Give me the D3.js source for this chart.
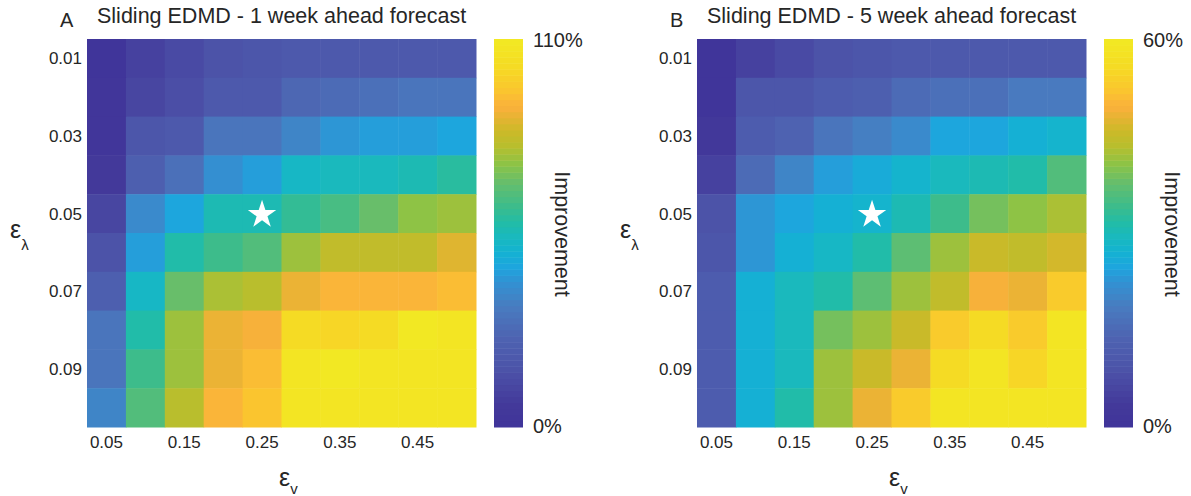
<!DOCTYPE html>
<html lang="en">

<head>
  <meta charset="UTF-8">
  <title>Sliding EDMD forecast improvement</title>
  <style>
    body { margin: 0; background: #fff; }
    text { font-family: "Liberation Sans", Arial, sans-serif; fill: #262626; }
  </style>
</head>

<body>
  <svg id="svg" width="1191" height="496"></svg>

  <script src="https://d3js.org/d3.v7.min.js"></script>
  <script>
    // epsilon_v (columns) and epsilon_lambda (rows)
    const epsV = [0.05, 0.10, 0.15, 0.20, 0.25, 0.30, 0.35, 0.40, 0.45, 0.50]
    const epsL = [0.01, 0.02, 0.03, 0.04, 0.05, 0.06, 0.07, 0.08, 0.09, 0.10]
    const xTickVals = [0.05, 0.15, 0.25, 0.35, 0.45]
    const yTickVals = [0.01, 0.03, 0.05, 0.07, 0.09]

    // improvement in %, one row per epsilon_lambda
    const oneWeek = [
      [1, 9, 13, 16, 18, 19, 20, 20, 20, 20],
      [2, 11, 14, 19, 20, 26, 28, 30, 31, 32],
      [3, 18, 20, 32, 32, 37, 42, 44, 44, 46],
      [6, 24, 30, 40, 44, 52, 54, 54, 56, 59],
      [12, 39, 46, 55, 55, 61, 64, 69, 74, 77],
      [17, 44, 57, 62, 67, 77, 81, 82, 82, 87],
      [24, 52, 69, 79, 80, 89, 92, 92, 92, 94],
      [31, 57, 76, 88, 91, 103, 100, 103, 109, 108],
      [32, 62, 77, 89, 94, 108, 109, 108, 107, 108],
      [37, 67, 80, 92, 95, 107, 107, 107, 107, 107]
    ]
    const fiveWeek = [
      [0.6, 5.4, 7.2, 9, 9.6, 10.8, 10.8, 10.8, 10.8, 10.8],
      [0.6, 9.6, 10.2, 12, 12.6, 15, 16.2, 16.8, 18.6, 18.6],
      [2.4, 11.4, 13.2, 17.4, 19.2, 21, 24.6, 24.6, 26.4, 27.3],
      [4.8, 15, 20.4, 24, 25.8, 27.6, 29.4, 30, 31.8, 36],
      [9, 22.8, 24.6, 27, 27.6, 30.6, 34.2, 39, 40.8, 42.6],
      [10.2, 22.8, 27, 28.8, 31.8, 37.2, 42, 45.6, 44.7, 46.8],
      [11.4, 26.4, 29.4, 31.8, 36.6, 42, 44.4, 49.2, 48, 52.5],
      [11.4, 26.4, 29.4, 39, 42, 45, 52.8, 55.8, 53.1, 59],
      [11.4, 26.4, 29.4, 41.4, 45.6, 48.6, 55.8, 59, 55.2, 58.8],
      [11.4, 26.4, 31.2, 41.4, 48.6, 52.8, 58.8, 59, 58.8, 59]
    ]
    const maxA = 110
    const maxB = 60
    const best = { v: 0.25, l: 0.05 }

    // parula-like colormap as it appears in the figure
    const cmapPos = [0, 0.05, 0.14, 0.23, 0.31, 0.37, 0.41, 0.45, 0.49, 0.53, 0.57, 0.63,
      0.68, 0.73, 0.77, 0.83, 0.88, 0.94, 1]
    const cmapCol = ["#40359a", "#43399a", "#4c52a8", "#4e64b2", "#487dc0", "#3291d2", "#1ea5de",
      "#14b2d2", "#19b9be", "#23bca5", "#3cbc8c", "#64be6e", "#8cc346", "#b9be2d", "#cdb928",
      "#fab03c", "#fac82d", "#f5dc23", "#f2e823"]
    const ramp = d3.scaleLinear().domain(cmapPos).range(cmapCol).interpolate(d3.interpolateRgb)
    const nColors = 64
    const cmap = d3.range(nColors).map(i => ramp(i / (nColors - 1)))

    const svg = d3.select("#svg")

    function drawPanel(x0, letter, title, values, vmax) {
      const g = svg.append("g")
      const x = d3.scaleBand().domain(epsV).range([x0, x0 + 389])
      const y = d3.scaleBand().domain(epsL).range([39, 427])
      const colorIdx = v => Math.max(0, Math.min(nColors - 1, Math.floor(v / vmax * nColors)))

      const cells = []
      epsL.forEach((l, i) => epsV.forEach((v, j) => cells.push({ l, v, val: values[i][j] })))

      g.selectAll("rect.cell")
        .data(cells)
        .enter()
        .append("rect")
        .attr("class", "cell")
        .attr("x", d => x(d.v))
        .attr("y", d => y(d.l))
        .attr("width", x.bandwidth() + 0.5)
        .attr("height", y.bandwidth() + 0.5)
        .attr("fill", d => cmap[colorIdx(d.val)])

      g.append("path")
        .attr("d", d3.symbol(d3.symbolStar, 250)())
        .attr("transform", `translate(${x(best.v) + x.bandwidth() / 2},${y(best.l) + y.bandwidth() / 2 + 1})`)
        .attr("fill", "#fff")

      // tick labels
      g.selectAll("text.xt")
        .data(xTickVals)
        .enter()
        .append("text")
        .attr("x", d => x(d) + x.bandwidth() / 2)
        .attr("y", 448)
        .attr("text-anchor", "middle")
        .attr("font-size", 17)
        .text(d => d3.format(".2f")(d))

      g.selectAll("text.yt")
        .data(yTickVals)
        .enter()
        .append("text")
        .attr("x", x0 - 5)
        .attr("y", d => y(d) + y.bandwidth() / 2 + 6)
        .attr("text-anchor", "end")
        .attr("font-size", 17)
        .text(d => d3.format(".2f")(d))

      // axis labels
      const xl = g.append("text").attr("x", x0 + 192).attr("y", 486).attr("font-size", 25).text("ε")
      xl.append("tspan").attr("font-size", 15).attr("dy", 8).text("v")
      const yl = g.append("text").attr("x", x0 - 77).attr("y", 238).attr("font-size", 25).text("ε")
      yl.append("tspan").attr("font-size", 15).attr("dy", 12).text("λ")

      // title
      g.append("text").attr("x", x0 - 27).attr("y", 27).attr("font-size", 20).text(letter)
      g.append("text").attr("x", x0 + 10).attr("y", 23).attr("font-size", 21.5).text(title)

      // colorbar
      const cb = d3.scaleLinear().domain([0, nColors]).range([427, 39])
      g.selectAll("rect.cb")
        .data(cmap)
        .enter()
        .append("rect")
        .attr("x", x0 + 407)
        .attr("y", (d, i) => cb(i + 1))
        .attr("width", 29)
        .attr("height", cb(0) - cb(1) + 0.5)
        .attr("fill", d => d)

      g.append("text").attr("x", x0 + 446).attr("y", 47).attr("font-size", 20).text(vmax + "%")
      g.append("text").attr("x", x0 + 446).attr("y", 433).attr("font-size", 20).text("0%")
      g.append("text")
        .attr("transform", `translate(${x0 + 468},234) rotate(90)`)
        .attr("text-anchor", "middle")
        .attr("font-size", 21.5)
        .text("Improvement")
    }

    drawPanel(87, "A", "Sliding EDMD - 1 week ahead forecast", oneWeek, maxA)
    drawPanel(697, "B", "Sliding EDMD - 5 week ahead forecast", fiveWeek, maxB)
  </script>
</body>

</html>
